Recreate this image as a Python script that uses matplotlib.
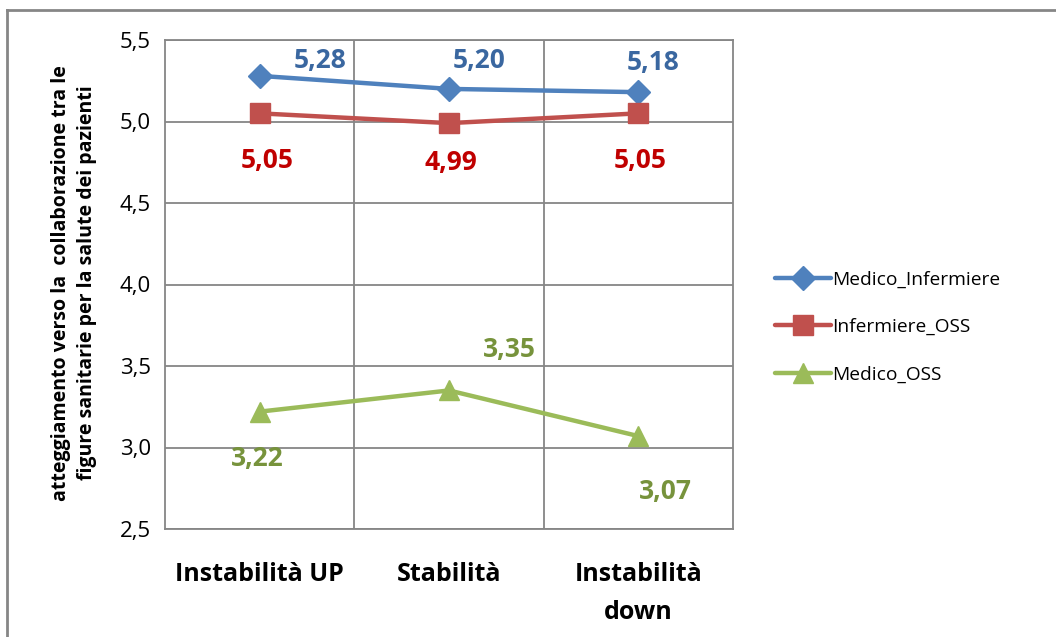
import matplotlib
matplotlib.use("Agg")
import matplotlib.pyplot as plt
from matplotlib.lines import Line2D

plt.rcParams['font.family'] = ['Open Sans', 'DejaVu Sans']

categories = ["Instabilità UP", "Stabilità", "Instabilità\ndown"]
medico_infermiere = [5.28, 5.20, 5.18]
infermiere_oss = [5.05, 4.99, 5.05]
medico_oss = [3.22, 3.35, 3.07]
y_ticks = [2.5, 3.0, 3.5, 4.0, 4.5, 5.0, 5.5]

series = [
    ("Medico_Infermiere", medico_infermiere, "#4F81BD", "#3A67A0", "D", 12,
     [(60, 15), (30, 28), (15, 30)]),
    ("Infermiere_OSS", infermiere_oss, "#C0504D", "#C00000", "s", 14,
     [(8, -47), (2, -39), (2, -47)]),
    ("Medico_OSS", medico_oss, "#9BBB59", "#77933C", "^", 14,
     [(-2, -47), (60, 41), (27, -55)]),
]

fig = plt.figure(figsize=(10.56, 6.37), dpi=100)
ax = fig.add_axes([165 / 1056, 1 - 529 / 637, (733 - 165) / 1056, (529 - 40) / 637])

grid_color = "#868686"
x = list(range(len(categories)))
handles = []
for name, vals, color, lab_color, marker, ms, offsets in series:
    ax.plot(x, vals, color=color, lw=3.2, marker=marker, markersize=ms,
            markerfacecolor=color, markeredgecolor=color, zorder=3,
            solid_capstyle="round")
    for xi, v, off in zip(x, vals, offsets):
        ax.annotate(f"{v:.2f}".replace(".", ","), (xi, v), xytext=off,
                    textcoords="offset pixels", ha="center", va="center",
                    color=lab_color, fontsize=19, fontweight="bold", zorder=4)
    handles.append(Line2D([0], [0], color=color, lw=3.2, marker=marker,
                          markersize=ms, markerfacecolor=color,
                          markeredgecolor=color, solid_capstyle="round"))

ax.set_xlim(-0.5, len(categories) - 0.5)
ax.set_ylim(2.5, 5.5)
ax.set_yticks(y_ticks)
ax.set_yticklabels([f"{t:.1f}".replace(".", ",") for t in y_ticks], fontsize=16)
ax.set_xticks(x)
ax.set_xticklabels(categories, fontsize=18, fontweight="bold", va="top",
                   linespacing=1.65)
ax.set_xticks([0.5, 1.5], minor=True)
ax.tick_params(axis="both", which="both", length=0)
ax.tick_params(axis="x", pad=24)
ax.tick_params(axis="y", pad=10)
ax.grid(axis="y", which="major", color=grid_color, lw=1.3)
ax.grid(axis="x", which="minor", color=grid_color, lw=1.3)
ax.grid(axis="x", which="major", visible=False)
ax.set_axisbelow(True)
for s in ax.spines.values():
    s.set_color(grid_color)
    s.set_linewidth(1.3)

fig.text(74 / 1056, 1 - 283 / 637,
         "atteggiamento verso la  collaborazione tra le\nfigure sanitarie per la salute dei pazienti",
         rotation=90, ha="center", va="center", fontsize=14, fontweight="bold",
         linespacing=1.45)

fig.legend(handles, [s[0] for s in series], loc="center left",
           bbox_to_anchor=(775 / 1056, 1 - 327 / 637), frameon=False,
           borderpad=0, borderaxespad=0,
           fontsize=13.8, handlelength=2.9, handletextpad=0.1, labelspacing=1.55)

# chart frame
fig.add_artist(Line2D([7 / 1056, 7 / 1056], [0, 1 - 10 / 637],
                      transform=fig.transFigure, color=grid_color, lw=2))
fig.add_artist(Line2D([7 / 1056, 1], [1 - 10 / 637, 1 - 10 / 637],
                      transform=fig.transFigure, color=grid_color, lw=2))

fig.savefig("out.png", dpi=100)
